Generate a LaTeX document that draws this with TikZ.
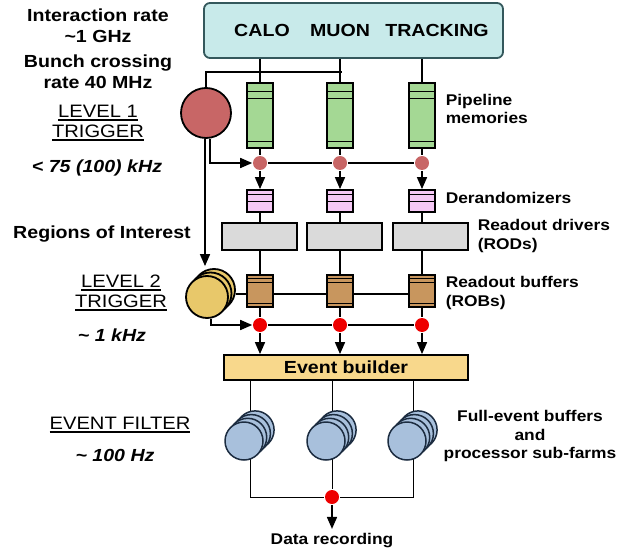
\documentclass[tikz,border=0pt]{standalone}
\usepackage{fontspec}
\setmainfont{Liberation Sans}[FakeStretch=1.12]
\usetikzlibrary{arrows.meta,backgrounds}
\definecolor{detfill}{HTML}{C8EAEA}
\definecolor{detline}{HTML}{34585C}
\definecolor{pipefill}{HTML}{A4D894}
\definecolor{derfill}{HTML}{F6C8F6}
\definecolor{rodfill}{HTML}{DADADA}
\definecolor{robfill}{HTML}{C8965E}
\definecolor{lonefill}{HTML}{C86666}
\definecolor{ltwofill}{HTML}{E8C86A}
\definecolor{ebfill}{HTML}{F8D88C}
\definecolor{effill}{HTML}{A8C0DC}
\definecolor{efline}{HTML}{1C2C40}
\definecolor{accred}{HTML}{EE0000}
\newcommand{\uln}[1]{\sbox0{#1}\rlap{\rule[-3pt]{\wd0}{1.3pt}}\usebox0}
\begin{document}
\begin{tikzpicture}[x=1pt,y=-1pt,line width=1.6pt,
  unit/.style={draw,line width=1.8pt,inner sep=0pt},
  sep/.style={line width=1.1pt},
  dot/.style={circle,inner sep=0pt,minimum size=14pt},
  efc/.style={circle,draw=efline,line width=1.5pt,fill=effill,minimum size=38pt,inner sep=0pt},
  big/.style={font=\fontsize{17.5}{21}\selectfont\bfseries,inner sep=0pt,align=center},
  rate/.style={font=\fontsize{17.5}{21}\selectfont\bfseries\itshape,inner sep=0pt},
  lvl/.style={font=\fontsize{18}{20}\selectfont,inner sep=0pt,align=center},
  side/.style={font=\fontsize{15.5}{18.5}\selectfont\bfseries,inner sep=0pt,align=left},
  arr/.style={-{Triangle[length=12pt,width=10pt]}}]
 \useasboundingbox (0,0) rectangle (620,553);
 \node[unit,rounded corners=6pt,draw=detline,fill=detfill,minimum width=299pt,minimum height=55pt] (det) at (353.5,30.5) {};
 \node[big] (calo) at (262,30) {CALO};
 \node[big] (muon) at (340,30) {MUON};
 \node[big] (trk) at (437,30) {TRACKING};
 \node[unit,fill=ebfill,minimum width=244pt,minimum height=25pt,big] (eb) at (346,367.5) {Event builder};
 \foreach \i/\x/\rx in {1/260/259.5,2/340/344.5,3/422/430.5}{
  \node[unit,fill=pipefill,minimum width=26pt,minimum height=65pt] (pipe\i) at (\x,115.5) {};
  \draw[sep] ([yshift=-9pt]pipe\i.north west) -- ([yshift=-9pt]pipe\i.north east)
   ([yshift=-16pt]pipe\i.north west) -- ([yshift=-16pt]pipe\i.north east)
   ([yshift=7pt]pipe\i.south west) -- ([yshift=7pt]pipe\i.south east);
  \node[dot,fill=lonefill] (a\i) at (\x,163) {};
  \node[unit,fill=derfill,minimum width=26pt,minimum height=22pt] (der\i) at (\x,201) {};
  \draw[sep] ([yshift=-5.5pt]der\i.north west) -- ([yshift=-5.5pt]der\i.north east)
   ([yshift=-12pt]der\i.north west) -- ([yshift=-12pt]der\i.north east);
  \node[unit,fill=rodfill,minimum width=75pt,minimum height=27pt] (rod\i) at (\rx,236.5) {};
  \node[unit,fill=robfill,minimum width=26pt,minimum height=32pt] (rob\i) at (\x,291) {};
  \draw[sep] ([yshift=-4pt]rob\i.north west) -- ([yshift=-4pt]rob\i.north east)
   ([yshift=-8pt]rob\i.north west) -- ([yshift=-8pt]rob\i.north east)
   ([yshift=4pt]rob\i.south west) -- ([yshift=4pt]rob\i.south east);
  \node[dot,fill=accred] (b\i) at (\x,325) {};
  \draw (pipe\i.north |- det.south) -- (pipe\i.north);
  \draw (pipe\i) -- (a\i);
  \draw[arr] (a\i) -- (der\i);
  \draw (der\i) -- (der\i.south |- rod\i.north);
  \draw (rob\i.north |- rod\i.south) -- (rob\i);
  \draw (rob\i) -- (b\i);
  \draw[arr] (b\i) -- (b\i |- eb.north);
 }
 \draw (a1) -- (a2) (a2) -- (a3);
 \draw (b1) -- (b2) (b2) -- (b3);
 \node[circle,draw,line width=1.8pt,fill=lonefill,minimum size=50pt,inner sep=0pt] (l1) at (206,113) {};
 \coordinate (tap) at (342,72);
 \draw (l1.north) |- (tap);
 \draw[arr] ([xshift=4pt]l1.south) |- (a1);
 \foreach \k/\n in {2/l2c,1/l2b,0/l2}
  \node[circle,draw,line width=1.8pt,fill=ltwofill,minimum size=42pt,inner sep=0pt] (\n) at ({207+3.5*\k},{297-3.5*\k}) {};
 \draw[arr,shorten >=2pt] ([xshift=-1pt]l1.south) -- ([xshift=-1pt]l1.south |- l2c.north);
 \draw[arr] ([xshift=4pt]l2.south) |- (b1);
 \coordinate (hl) at ([yshift=-4pt]l2c.east);
 \draw (hl) -- (hl -| rob1.west) (hl -| rob1.east) -- (hl -| rob2.west) (hl -| rob2.east) -- (hl -| rob3.west);
 \foreach \i/\x in {1/250,2/332,3/413}{
  \foreach \k in {3,2,1,0}
   \node[efc] (ef\i-\k) at ({\x-6+3.7*\k},{441-3.7*\k}) {};
  \coordinate (f\i) at (\x,441);
 }
 \node[dot,fill=accred] (out) at (332,497) {};
 \node[side] (rec) at (332,541) {Data recording};
 \begin{scope}[on background layer]
  \draw (f1 |- eb.south) |- (out) (f3 |- eb.south) |- (out) (f2 |- eb.south) -- (out);
 \end{scope}
 \draw[arr,shorten >=4pt] (out) -- (rec);
 \node[big] (irate) at (98,26) {Interaction rate\\\textasciitilde1 GHz};
 \node[big] (bxing) at (98,72) {Bunch crossing\\rate 40 MHz};
 \node[lvl] (lone) at (98,123) {\uln{LEVEL 1}\\\uln{TRIGGER}};
 \node[rate] (lonerate) at (97,168) {< 75 (100) kHz};
 \node[big] (roi) at (102,234) {Regions of Interest};
 \node[lvl] (ltwo) at (121,293) {\uln{LEVEL 2}\\\uln{TRIGGER}};
 \node[rate] (ltworate) at (112,335) {\textasciitilde\ 1 kHz};
 \node[lvl] (eflvl) at (120,425) {\uln{EVENT FILTER}};
 \node[rate] (efrate) at (115,455) {\textasciitilde\ 100 Hz};
 \node[side,anchor=west] (pipelbl) at (445,109) {Pipeline\\memories};
 \node[side,anchor=west] (derlbl) at (445,198) {Derandomizers};
 \node[side,anchor=west] (rodlbl) at (477,236) {Readout drivers\\(RODs)};
 \node[side,anchor=west] (roblbl) at (445,293) {Readout buffers\\(ROBs)};
 \node[side,align=center] (eflbl) at (530,436) {Full-event buffers\\and\\processor sub-farms};
\end{tikzpicture}
\end{document}
